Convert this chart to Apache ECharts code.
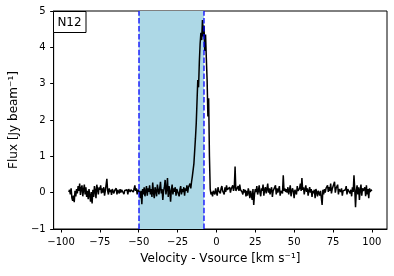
<!DOCTYPE html>
<html>
<head>
<meta charset="utf-8">
<script src="https://cdn.jsdelivr.net/npm/echarts@6/dist/echarts.min.js"></script>
<style>html,body{margin:0;padding:0;background:#fff}#c{width:394px;height:276px}</style>
</head>
<body>
<div id="c"></div>
<script>
// Channel grid of the spectrum (km/s)
const vStart = -95;
const vStep = 0.5;
// Flux values (Jy/beam), one per channel
const flux = [
  0.02, 0.08, -0.05, 0.12, -0.15, -0.22, -0.08, -0.26, 0.05, -0.10, 0.10, -0.02, 0.18, 0.05, 0.25, -0.06, 0.12, 0.20, -0.10, 0.08,
  0.22, -0.05, 0.15, -0.12, 0.05, -0.18, 0.10, -0.08, -0.25, 0.02, -0.30, 0.08, -0.12, 0.18, 0.05, -0.15, 0.22, 0.10, -0.05, 0.15,
  0.08, 0.20, -0.02, 0.12, 0.00, 0.15, -0.08, 0.05, 0.10, 0.38, 0.05, -0.05, 0.12, 0.02, 0.08, -0.06, 0.10, 0.15, -0.02, 0.06,
  0.02, 0.12, -0.05, 0.08, 0.04, -0.02, 0.10, 0.00, 0.08, 0.05, 0.12, -0.04, 0.06, 0.10, 0.02, 0.08, -0.05, 0.10, 0.15, 0.02,
  0.08, 0.05, 0.12, 0.02, 0.10, 0.20, 0.05, 0.12, -0.05, 0.08, 0.10, 0.02, -0.15, 0.05, -0.32, 0.10, -0.05, 0.15, -0.10, 0.05,
  0.18, -0.08, 0.12, 0.02, 0.20, -0.05, 0.10, -0.12, 0.28, 0.00, -0.15, 0.15, 0.05, -0.10, 0.22, 0.08, -0.05, 0.12, 0.30, -0.02,
  0.10, -0.20, 0.05, 0.15, 0.35, -0.05, 0.10, 0.40, -0.12, 0.18, 0.05, -0.25, 0.08, 0.22, -0.05, 0.12, 0.02, 0.15, -0.08, 0.10,
  0.05, 0.12, -0.10, 0.08, 0.18, -0.05, 0.10, 0.02, 0.15, -0.08, 0.12, 0.05, 0.20, 0.00, 0.15, 0.10, 0.25, 0.12, 0.30, 0.45,
  0.45, 0.80, 0.75, 1.50, 1.90, 2.50, 3.10, 2.90, 3.60, 4.10, 4.40, 4.20, 4.75, 4.30, 4.60, 3.90, 4.35, 3.70, 3.10, 2.10,
  2.60, 1.00, 0.10, -0.05, 0.02, -0.10, 0.05, 0.08, -0.05, 0.12, 0.00, -0.08, 0.15, 0.05, 0.10, -0.02, 0.12, 0.18, 0.05, 0.10,
  -0.05, 0.15, 0.02, 0.20, 0.08, 0.12, 0.05, 0.15, 0.00, 0.10, 0.08, 0.20, 0.05, 0.15, 0.72, 0.05, 0.10, 0.00, 0.18, 0.05,
  0.22, 0.08, 0.12, 0.02, -0.05, 0.10, 0.00, 0.08, -0.10, 0.05, -0.08, 0.12, 0.02, -0.15, 0.05, 0.08, -0.20, 0.10, -0.34, -0.05,
  0.10, 0.02, 0.18, -0.05, 0.05, 0.20, 0.00, -0.10, 0.12, 0.05, 0.22, -0.08, 0.08, 0.15, -0.02, 0.10, 0.25, 0.00, 0.12, -0.05,
  0.08, 0.15, -0.12, 0.05, 0.10, 0.02, 0.20, -0.05, 0.12, 0.00, 0.08, 0.18, -0.08, 0.05, 0.10, -0.02, 0.48, 0.05, 0.12, 0.02,
  0.10, 0.00, 0.15, -0.05, 0.08, 0.20, -0.10, 0.05, 0.12, 0.02, -0.15, 0.08, 0.10, -0.05, 0.18, 0.05, 0.00, 0.12, 0.25, 0.05,
  0.40, 0.08, 0.15, -0.05, 0.10, 0.20, 0.02, 0.12, -0.08, 0.05, 0.15, 0.00, 0.10, -0.12, 0.05, -0.02, 0.08, -0.15, 0.10, 0.02,
  -0.10, 0.05, 0.00, -0.08, 0.05, 0.02, -0.34, 0.08, -0.05, 0.10, 0.00, 0.12, 0.08, 0.20, 0.02, 0.15, 0.05, 0.25, -0.02, 0.10,
  0.05, 0.15, 0.30, 0.00, 0.12, 0.08, 0.22, -0.05, 0.10, 0.15, 0.02, 0.12, -0.08, 0.05, 0.10, 0.00, 0.08, 0.18, -0.05, 0.10,
  0.05, 0.12, -0.02, 0.08, -0.10, 0.15, 0.02, 0.48, 0.10, -0.40, 0.05, 0.20, -0.05, 0.15, -0.20, 0.08, 0.22, -0.08, 0.12, 0.05,
  0.00, 0.15, -0.10, 0.20, -0.05, 0.10, -0.15, 0.12, 0.02, 0.08, 0.05
];
// Integration window (km/s)
const windowRange = [-50, -8];
// Tick values
const xTicks = [-100, -75, -50, -25, 0, 25, 50, 75, 100];
const xLimits = [-104.75, 109.75];
const yLimits = [-1, 5];
const panelLabel = 'N12';
const xTitle = 'Velocity - Vsource [km s\u207B\u00B9]';
const yTitle = 'Flux [Jy beam\u207B\u00B9]';

const lineData = flux.map((f, i) => [vStart + i * vStep, f]);
const fmt = v => (v < 0 ? '\u2212' + Math.abs(v) : String(v));
const FONT = 'DejaVu Sans';

const chart = echarts.init(document.getElementById('c'), null, {renderer: 'canvas'});
chart.setOption({
  animation: false,
  backgroundColor: '#fff',
  textStyle: {fontFamily: FONT},
  grid: {left: 53, right: 7, top: 11, bottom: 47, show: true, borderColor: '#000', borderWidth: 1, backgroundColor: 'transparent'},
  xAxis: {
    type: 'value', min: xLimits[0], max: xLimits[1],
    name: xTitle, nameLocation: 'middle', nameGap: 24,
    nameTextStyle: {fontFamily: FONT, fontSize: 12, color: '#000'},
    axisLine: {show: true, onZero: false, lineStyle: {color: '#000', width: 1}},
    axisTick: {show: true, inside: false, length: 3.5, customValues: xTicks, lineStyle: {color: '#000', width: 1}},
    axisLabel: {show: true, customValues: xTicks, formatter: fmt, margin: 8, fontFamily: FONT, fontSize: 10, color: '#000'},
    splitLine: {show: false}
  },
  yAxis: {
    type: 'value', min: yLimits[0], max: yLimits[1], interval: 1,
    name: yTitle, nameLocation: 'middle', nameGap: 30, nameRotate: 90,
    nameTextStyle: {fontFamily: FONT, fontSize: 12, color: '#000'},
    axisLine: {show: true, onZero: false, lineStyle: {color: '#000', width: 1}},
    axisTick: {show: true, inside: false, length: 3.5, lineStyle: {color: '#000', width: 1}},
    axisLabel: {show: true, formatter: fmt, margin: 8, fontFamily: FONT, fontSize: 10, color: '#000'},
    splitLine: {show: false}
  },
  series: [
    {
      type: 'line', data: [], z: 1, silent: true,
      markArea: {
        silent: true,
        itemStyle: {color: '#add8e6', opacity: 1},
        data: [[{xAxis: windowRange[0]}, {xAxis: windowRange[1]}]]
      }
    },
    {
      type: 'line', data: lineData, z: 2, showSymbol: false, symbol: 'none', silent: true,
      lineStyle: {color: '#000', width: 1.5}
    },
    {
      type: 'line', data: [], z: 3, silent: true,
      markLine: {
        silent: true, symbol: ['none', 'none'], label: {show: false},
        lineStyle: {color: '#0000ff', width: 1.5, type: [5.5, 2.4], opacity: 0.85},
        emphasis: {disabled: true},
        data: windowRange.map(v => ({xAxis: v}))
      }
    }
  ],
  graphic: [
    {
      type: 'rect', z: 100,
      shape: {x: 53.5, y: 11.5, width: 32.5, height: 21},
      style: {fill: '#fff', stroke: '#000', lineWidth: 1}
    },
    {
      type: 'text', z: 101, x: 69.5, y: 22.5,
      style: {text: panelLabel, font: '12px "DejaVu Sans"', fill: '#000', align: 'center', verticalAlign: 'middle'}
    }
  ]
});
</script>
</body>
</html>
